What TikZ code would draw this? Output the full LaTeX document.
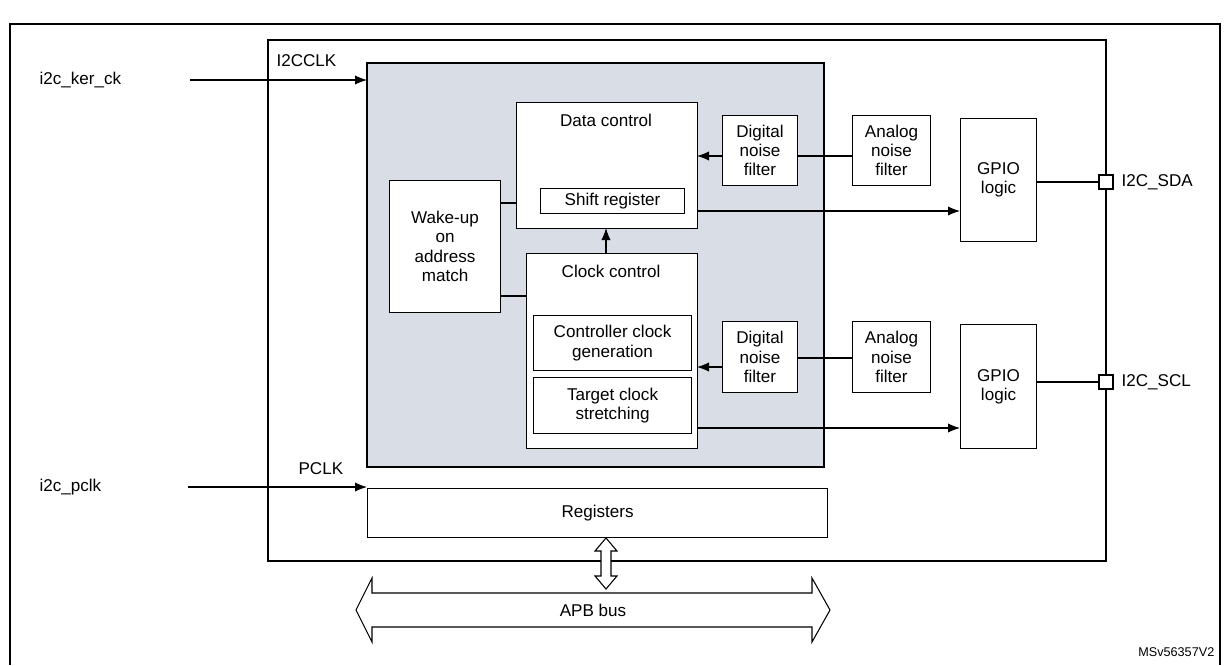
\documentclass[tikz,border=0pt]{standalone}
\usepackage{fontspec}
\setmainfont{Liberation Sans}
\begin{document}
\begin{tikzpicture}[x=0.75pt,y=-0.75pt,
  box/.style={draw,line width=0.8pt,fill=white},
  arr/.style={-{Latex[length=9pt,width=7pt]},line width=0.8pt},
  ln/.style={line width=0.8pt},
  lbl/.style={font=\fontsize{12.8}{14.5}\selectfont,align=center,inner sep=1pt}]
\usetikzlibrary{arrows.meta}
\useasboundingbox (0,0) rectangle (1230,665);
\draw[line width=1pt] (10,665) -- (10,24) -- (1220,24) -- (1220,665);
\draw[line width=2pt] (268,40) rectangle (1106,561);
\fill[fill={rgb,255:red,217;green,221;blue,230}] (367,63) rectangle (824,467);
\draw[line width=0.8pt] (367,63) rectangle (824,467);
% data control
\node[box,minimum width=181pt*0.75,minimum height=126pt*0.75,anchor=north west] (dc) at (516,102) {};
\node[lbl] (dct) at (606,120) {Data control};
\node[box,anchor=north west,minimum width=144*0.75pt,minimum height=25*0.75pt,lbl] (sr) at (540,188) {Shift register};
% clock control
\node[box,minimum width=171*0.75pt,minimum height=195*0.75pt,anchor=north west] (cc) at (526,253) {};
\node[lbl] (cct) at (611,271) {Clock control};
\node[box,anchor=north west,minimum width=158*0.75pt,minimum height=55*0.75pt,lbl] (ccg) at (533,315) {Controller clock\\generation};
\node[box,anchor=north west,minimum width=158*0.75pt,minimum height=56*0.75pt,lbl] (tcs) at (533,377) {Target clock\\stretching};
% wake-up
\node[box,anchor=north west,minimum width=111*0.75pt,minimum height=132*0.75pt,lbl] (wu) at (389,180) {Wake-up\\on\\address\\match};
\coordinate (wd) at (516,203); \coordinate (wc) at (526,296);
\draw[ln] (wu.east|-wd) -- (wd);
\draw[ln] (wu.east|-wc) -- (wc);
\draw[arr] (606,253) -- (606,228);
% top filters
\node[box,anchor=north west,minimum width=75*0.75pt,minimum height=70*0.75pt,lbl] (dn1) at (722,115) {Digital\\noise\\filter};
\node[box,anchor=north west,minimum width=78*0.75pt,minimum height=70*0.75pt,lbl] (an1) at (852,115) {Analog\\noise\\filter};
\node[box,anchor=north west,minimum width=76*0.75pt,minimum height=123*0.75pt,lbl] (gp1) at (960,118) {GPIO\\logic};
\draw[ln] (an1.west|-0,156) -- (dn1.east|-0,156);
\draw[arr] (dn1.west|-0,156) -- (697,156);
\draw[arr] (697,211) -- (gp1.west|-0,211);
% bottom filters
\node[box,anchor=north west,minimum width=75*0.75pt,minimum height=71*0.75pt,lbl] (dn2) at (722,321) {Digital\\noise\\filter};
\node[box,anchor=north west,minimum width=78*0.75pt,minimum height=71*0.75pt,lbl] (an2) at (852,321) {Analog\\noise\\filter};
\node[box,anchor=north west,minimum width=76*0.75pt,minimum height=124*0.75pt,lbl] (gp2) at (960,324) {GPIO\\logic};
\draw[ln] (an2.west|-0,358) -- (dn2.east|-0,358);
\draw[arr] (dn2.west|-0,367) -- (697,367);
\draw[arr] (697,428) -- (gp2.west|-0,428);
% pins
\node[draw,fill=white,line width=0.8pt,minimum size=14*0.75pt,inner sep=0pt] (p1) at (1106,182) {};
\node[draw,fill=white,line width=0.8pt,minimum size=14*0.75pt,inner sep=0pt] (p2) at (1106,382) {};
\draw[ln] (gp1.east|-p1) -- (p1);
\draw[ln] (gp2.east|-p2) -- (p2);
\node[lbl,anchor=west] (sda) at (1120,182) {I2C\_SDA};
\node[lbl,anchor=west] (scl) at (1120,382) {I2C\_SCL};
% clocks
\node[lbl,anchor=west] (ker) at (38,80) {i2c\_ker\_ck};
\coordinate (kerin) at (367,80);
\draw[arr] (190,80) -- (kerin);
\node[lbl,anchor=west] (i2cclk) at (275,61) {I2CCLK};
\node[box,anchor=north west,minimum width=460*0.75pt,minimum height=49*0.75pt,lbl] (reg) at (367,488) {Registers};
\node[lbl,anchor=west] (pclk) at (38,487) {i2c\_pclk};
\draw[arr] (188,487) -- (reg.west|-0,487);
\node[lbl,anchor=west] (pclkl) at (297,469) {PCLK};
% APB bus
\draw[ln,fill=white] (356,610) -- (372,578) -- (372,593) -- (812,593) -- (812,578) -- (830,610) -- (812,642) -- (812,627) -- (372,627) -- (372,642) -- cycle;
\node[lbl] (apb) at (593,610) {APB bus};
\draw[ln,fill=white] (606,538) -- (617,551) -- (611,551) -- (611,576) -- (617,576) -- (606,589) -- (595,576) -- (601,576) -- (601,551) -- (595,551) -- cycle;
\node[font=\fontsize{9.5}{11}\selectfont,anchor=east] (ms) at (1219,652) {MSv56357V2};
\end{tikzpicture}
\end{document}
